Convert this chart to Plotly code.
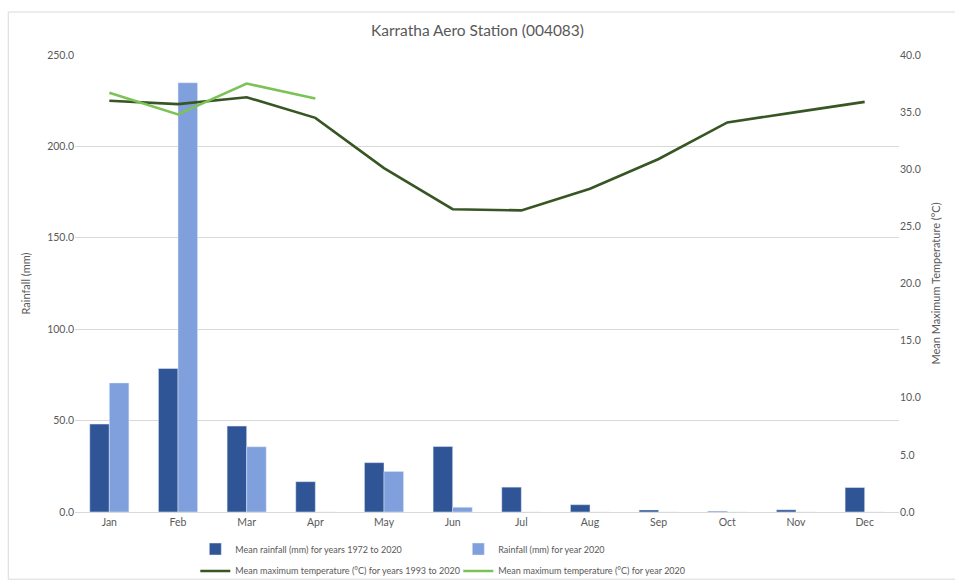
import plotly.graph_objects as go

months = ["Jan", "Feb", "Mar", "Apr", "May", "Jun", "Jul", "Aug", "Sep", "Oct", "Nov", "Dec"]

rain_mean = [48.1, 78.5, 47.0, 16.6, 27.0, 35.8, 13.6, 4.0, 1.1, 0.4, 1.2, 13.4]
rain_2020 = [70.6, 234.8, 35.7, 0.0, 22.2, 2.6, 0.0, 0.0, 0.0, 0.0, 0.0, 0.0]
temp_mean = [36.0, 35.7, 36.3, 34.5, 30.1, 26.5, 26.4, 28.3, 30.9, 34.1, 35.0, 35.9]
temp_2020 = [36.7, 34.8, 37.5, 36.2]

left_ticks = [0, 50, 100, 150, 200, 250]
right_ticks = [0, 5, 10, 15, 20, 25, 30, 35, 40]

TXT = "#595959"
FONT = "Lato"

fig = go.Figure()
fig.add_trace(go.Bar(x=months, y=rain_mean, name="Mean rainfall (mm) for years 1972 to 2020",
                     marker_color="#2F5597", yaxis="y", legend="legend"))
fig.add_trace(go.Bar(x=months, y=rain_2020, name="Rainfall (mm) for year 2020",
                     marker_color="#7FA0DC", yaxis="y", legend="legend"))
fig.add_trace(go.Scatter(x=months, y=temp_mean, mode="lines",
                         name="Mean maximum temperature (°C) for years 1993 to 2020",
                         line=dict(color="#375623", width=2.6), yaxis="y2", legend="legend2"))
fig.add_trace(go.Scatter(x=months[:len(temp_2020)], y=temp_2020, mode="lines",
                         name="Mean maximum temperature (°C) for year 2020",
                         line=dict(color="#7CC257", width=2.6), yaxis="y2", legend="legend2"))

# outer chart frame
fig.add_shape(type="rect", xref="paper", yref="paper",
              x0=-0.081, x1=1.1, y0=-0.147, y1=1.094,
              line=dict(color="#D9D9D9", width=1), fillcolor="rgba(0,0,0,0)", layer="below")

legend_common = dict(orientation="h", xanchor="left", yanchor="middle",
                     entrywidth=218, entrywidthmode="pixels", itemwidth=30,
                     bgcolor="rgba(0,0,0,0)", font=dict(size=9, color=TXT, family=FONT),
                     traceorder="normal")

fig.update_layout(
    width=955, height=583,
    margin=dict(l=75, r=56, t=55, b=71, autoexpand=False),
    paper_bgcolor="white", plot_bgcolor="white",
    font=dict(family=FONT, color=TXT, size=10.5),
    title=dict(text="Karratha Aero Station (004083)", x=0.5, xanchor="center",
               y=1 - 31 / 583, yanchor="middle", font=dict(size=15.5, color=TXT, family=FONT)),
    barmode="group", bargap=0.43, bargroupgap=0.0,
    xaxis=dict(showgrid=False, showline=True, linecolor="#D9D9D9", linewidth=1,
               ticks="", tickfont=dict(size=10.5, color=TXT), fixedrange=True),
    yaxis=dict(range=[0, 250], tickvals=left_ticks, tickformat=".1f",
               showgrid=True, gridcolor="#D9D9D9", gridwidth=1, zeroline=False,
               showline=False, ticks="", ticklen=0,
               title=dict(text="Rainfall (mm)", font=dict(size=11, color=TXT), standoff=14),
               tickfont=dict(size=10.5, color=TXT)),
    yaxis2=dict(range=[0, 40], tickvals=right_ticks, tickformat=".1f", overlaying="y",
                side="right", showgrid=False, zeroline=False, showline=False, ticks="",
                title=dict(text="Mean Maximum Temperature (°C)", font=dict(size=11, color=TXT),
                           standoff=12),
                tickfont=dict(size=10.5, color=TXT)),
    legend=dict(x=0.146, y=-0.081, **legend_common),
    legend2=dict(x=0.146, y=-0.129, **legend_common),
    showlegend=True,
)

fig.write_html("out.html")
